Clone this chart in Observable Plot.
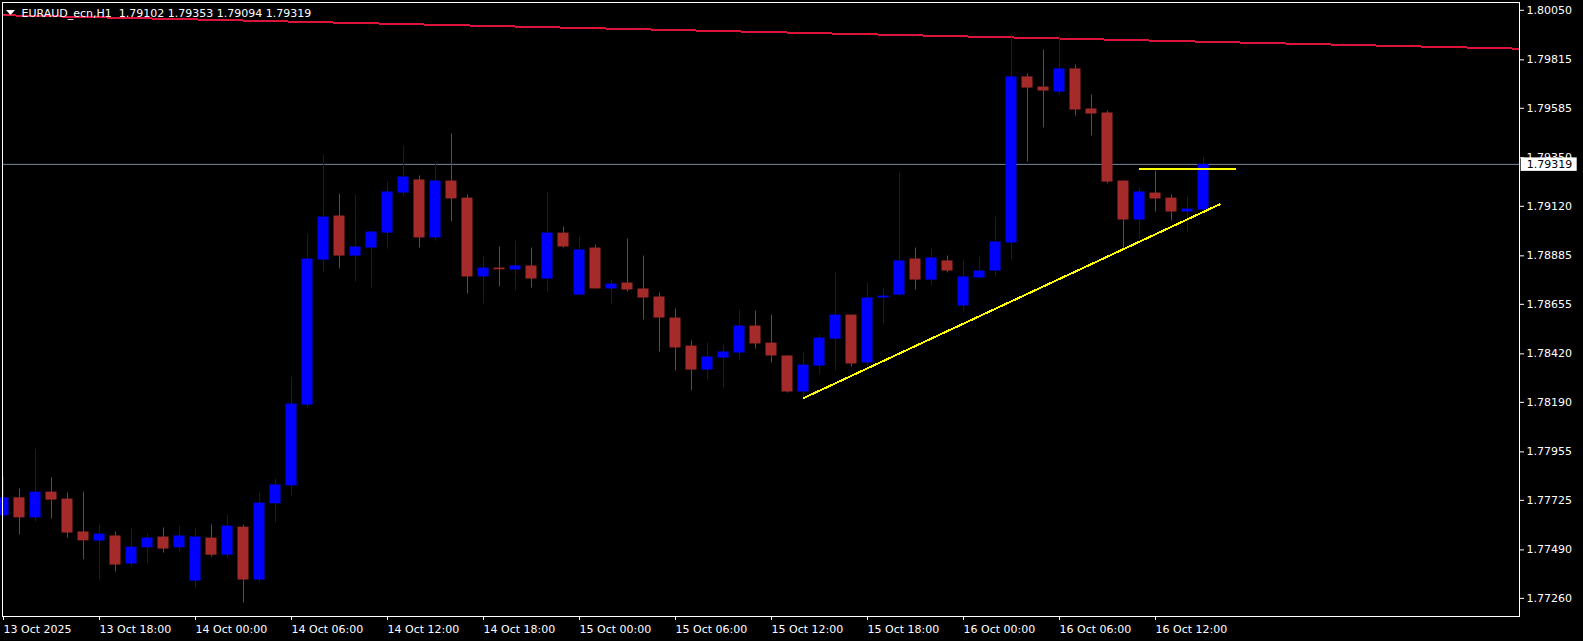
<!DOCTYPE html>
<html><head><meta charset="utf-8">
<script src="https://cdn.jsdelivr.net/npm/d3@7"></script>
<script src="https://cdn.jsdelivr.net/npm/@observablehq/plot@0.6"></script>
<style>html,body{margin:0;padding:0;background:#000;overflow:hidden}</style>
</head><body><div id="chart"></div>
<script>
const symbol = "EURAUD_ecn";
const timeframe = "H1";

const open = [1.77652,1.77737,1.77642,1.77764,1.77731,1.77575,1.77532,1.77556,1.77423,1.77500,
1.77551,1.77500,1.77342,1.77546,1.77465,1.77598,1.77347,1.77709,1.77794,1.78177,
1.78865,1.79074,1.78884,1.78922,1.78993,1.79183,1.79245,1.78970,1.79240,1.79159,
1.78785,1.78827,1.78818,1.78837,1.78775,1.78993,1.78699,1.78922,1.78728,1.78756,
1.78728,1.78690,1.78590,1.78457,1.78343,1.78400,1.78424,1.78552,1.78471,1.78410,
1.78239,1.78362,1.78490,1.78604,1.78377,1.78685,1.78699,1.78870,1.78770,1.78861,
1.78647,1.78780,1.78813,1.78946,1.79734,1.79686,1.79662,1.79772,1.79582,1.79563,
1.79240,1.79055,1.79183,1.79159,1.79093,1.79102];
const high = [1.77837,1.77779,1.77968,1.77832,1.77760,1.77764,1.77613,1.77575,1.77594,1.77565,
1.77594,1.77603,1.77594,1.77608,1.77655,1.77608,1.77760,1.77826,1.78310,1.78989,
1.79363,1.79178,1.79174,1.78998,1.79235,1.79406,1.79264,1.79321,1.79463,1.79174,
1.78884,1.78927,1.78955,1.78922,1.79188,1.79022,1.78974,1.78936,1.78770,1.78965,
1.78884,1.78709,1.78633,1.78481,1.78471,1.78462,1.78628,1.78623,1.78604,1.78410,
1.78424,1.78509,1.78804,1.78604,1.78756,1.78732,1.79278,1.78922,1.78917,1.78884,
1.78865,1.78879,1.79069,1.79938,1.79748,1.79862,1.79928,1.79791,1.79648,1.79572,
1.79240,1.79207,1.79287,1.79174,1.79164,1.79353];
const low = [1.77646,1.77560,1.77623,1.77636,1.77546,1.77443,1.77347,1.77385,1.77409,1.77423,
1.77475,1.77480,1.77304,1.77456,1.77446,1.77238,1.77333,1.77617,1.77745,1.78163,
1.78804,1.78823,1.78761,1.78732,1.78917,1.79169,1.78922,1.78955,1.79046,1.78704,
1.78656,1.78737,1.78718,1.78732,1.78713,1.78922,1.78697,1.78728,1.78652,1.78713,
1.78581,1.78429,1.78339,1.78244,1.78296,1.78253,1.78386,1.78443,1.78377,1.78234,
1.78210,1.78320,1.78339,1.78358,1.78362,1.78557,1.78690,1.78723,1.78742,1.78804,
1.78618,1.78775,1.78785,1.78865,1.79330,1.79492,1.79648,1.79549,1.79454,1.79226,
1.78917,1.78965,1.79093,1.79050,1.78998,1.79094];
const close = [1.77737,1.77642,1.77764,1.77726,1.77570,1.77533,1.77565,1.77418,1.77503,1.77546,
1.77494,1.77556,1.77551,1.77465,1.77603,1.77347,1.77712,1.77798,1.78182,1.78870,
1.79069,1.78884,1.78927,1.78998,1.79188,1.79259,1.78970,1.79240,1.79155,1.78785,
1.78827,1.78819,1.78837,1.78775,1.78993,1.78927,1.78913,1.78728,1.78751,1.78723,
1.78685,1.78590,1.78448,1.78343,1.78405,1.78429,1.78552,1.78467,1.78410,1.78239,
1.78367,1.78495,1.78604,1.78372,1.78685,1.78694,1.78861,1.78770,1.78875,1.78813,
1.78785,1.78813,1.78951,1.79734,1.79681,1.79667,1.79772,1.79577,1.79558,1.79235,
1.79055,1.79188,1.79155,1.79093,1.79107,1.79319];

const xTicks = [0,6,12,18,24,30,36,42,48,54,60,66,72];
const xLabels = ["13 Oct 2025","13 Oct 18:00","14 Oct 00:00","14 Oct 06:00","14 Oct 12:00","14 Oct 18:00",
"15 Oct 00:00","15 Oct 06:00","15 Oct 12:00","15 Oct 18:00","16 Oct 00:00","16 Oct 06:00","16 Oct 12:00"];
const yTicks = [1.80050,1.79815,1.79585,1.79350,1.79120,1.78885,1.78655,1.78420,1.78190,1.77955,1.77725,1.77490,1.77260];

// drawn objects
const trendBars = [50, 76];
const trendPrices = [1.78210, 1.79129];
const levelBars = [71, 77];
const levelPrices = [1.79297, 1.79297];
const redBars = [-0.22, 94.72];
const redPrices = [1.80027, 1.79868];

const bull = "#0000ff", bear = "#a52a2a";
const candles = open.map((o, i) => ({i, o, h: high[i], l: low[i], c: close[i], col: close[i] >= o ? bull : bear}));
const last = candles.length - 1;
const lastClose = close[last];
const title = `${symbol},${timeframe}  ${open[last].toFixed(5)} ${high[last].toFixed(5)} ${low[last].toFixed(5)} ${close[last].toFixed(5)}`;
const font = "DejaVu Sans";

const overlay = (index, scales, values, dims) => {
  const ns = "http://www.w3.org/2000/svg";
  const g = document.createElementNS(ns, "g");
  const yc = scales.y(lastClose) + 0.5;
  const x0 = dims.width - dims.marginRight;
  const r = document.createElementNS(ns, "rect");
  r.setAttribute("x", x0 + 1.7); r.setAttribute("y", yc - 7);
  r.setAttribute("width", 56); r.setAttribute("height", 13.5);
  r.setAttribute("fill", "#ffffff");
  g.appendChild(r);
  const t = document.createElementNS(ns, "text");
  t.setAttribute("x", x0 + 7.7); t.setAttribute("y", yc); t.setAttribute("dy", "0.32em");
  t.setAttribute("text-anchor", "start");
  t.setAttribute("fill", "#000"); t.setAttribute("font-size", "11px"); t.setAttribute("font-family", font);
  t.textContent = lastClose.toFixed(5);
  g.appendChild(t);
  const p = document.createElementNS(ns, "path");
  const lx = dims.marginLeft + 4;
  p.setAttribute("d", `M${lx},10L${lx+9},10L${lx+4.5},15Z`);
  p.setAttribute("fill", "#fff");
  g.appendChild(p);
  return g;
};

const chart = Plot.plot({
  width: 1583, height: 641,
  marginLeft: 2, marginRight: 64, marginTop: 2, marginBottom: 25,
  style: {background: "#000", color: "#fff", fontFamily: font, fontSize: "11px"},
  x: {domain: [-0.0625, 94.75], axis: null},
  y: {domain: [1.77174, 1.80087], axis: null},
  marks: [
    Plot.line(redBars.map((b, k) => ({b, p: redPrices[k]})), {x: "b", y: "p", stroke: "#dc143c", strokeWidth: 2, clip: true, shapeRendering: "crispEdges"}),
    Plot.ruleY([lastClose], {stroke: "#778899", strokeWidth: 1}),
    Plot.ruleX(candles, {x: "i", y1: "l", y2: "h", stroke: "col", strokeWidth: 1}),
    Plot.rect(candles, {x1: d => d.i - 0.5, x2: d => d.i + 0.5, y1: "o", y2: "c", fill: "col", insetLeft: 2.5, insetRight: 2.5}),
    Plot.line(trendBars.map((b, k) => ({b, p: trendPrices[k]})), {x: "b", y: "p", stroke: "#ffff00", strokeWidth: 2, shapeRendering: "crispEdges"}),
    Plot.line(levelBars.map((b, k) => ({b, p: levelPrices[k]})), {x: "b", y: "p", stroke: "#ffff00", strokeWidth: 2, shapeRendering: "crispEdges"}),
    Plot.frame({stroke: "#fff"}),
    Plot.axisY({anchor: "right", ticks: yTicks, tickFormat: d => d.toFixed(5), tickSize: 4, tickPadding: 3, color: "#fff", fontSize: 11, label: null}),
    Plot.axisX({anchor: "bottom", ticks: xTicks, tickFormat: d => xLabels[xTicks.indexOf(d)], tickSize: 4, tickPadding: 5, textAnchor: "start", color: "#fff", fontSize: 11, label: null}),
    Plot.text([title], {frameAnchor: "top-left", dx: 19, dy: 6.4, lineAnchor: "top", textAnchor: "start", fill: "#fff", fontSize: 11}),
    overlay
  ]
});
document.getElementById("chart").appendChild(chart);
</script>
</body></html>
